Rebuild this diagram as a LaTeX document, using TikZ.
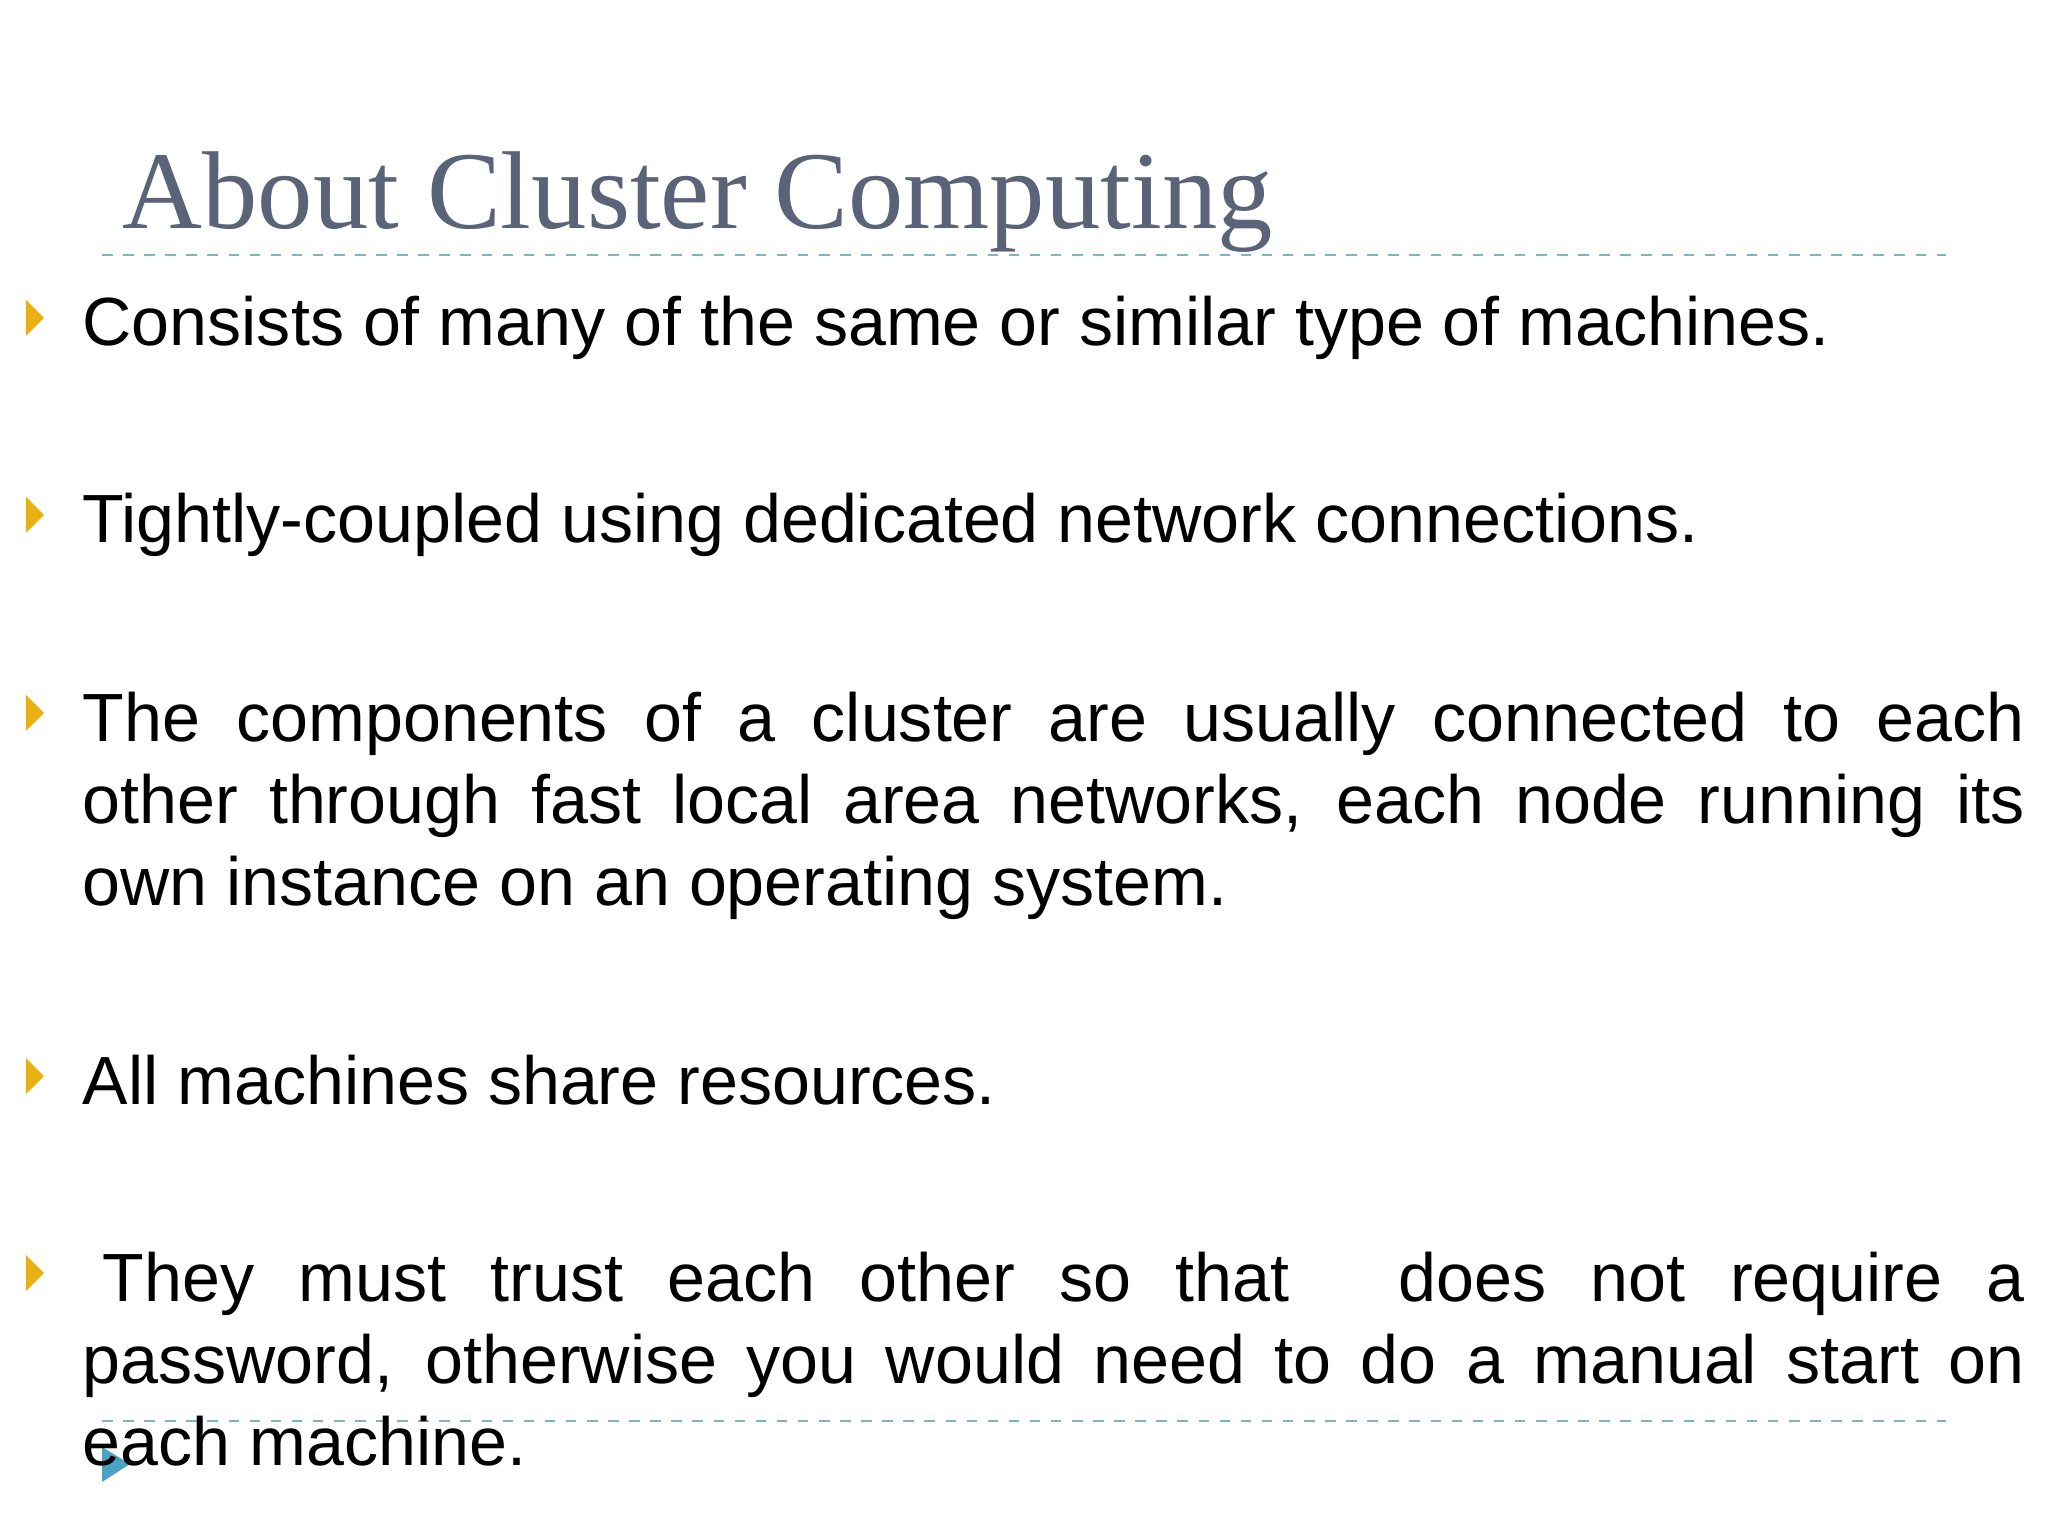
\documentclass[tikz,border=0pt]{standalone}
\usepackage{fontspec}
\setmainfont{Liberation Sans}
\newfontfamily\titlefont{Liberation Serif}
\definecolor{titlec}{HTML}{5A6377}
\definecolor{bulc}{HTML}{E8B010}
\definecolor{dashc}{HTML}{7FB5C3}
\definecolor{tealc}{HTML}{4BA3C3}
\hyphenpenalty=10000
\tikzset{
 item/.style={anchor=base west,inner sep=0pt,text width=19.42cm,align=justify,font=\fontsize{19.4pt}{23.4pt}\selectfont},
 bul/.style={fill=bulc,draw=none},
 sep/.style={dashc,dashed,line width=0.6pt}
}
\begin{document}
\begin{tikzpicture}[yscale=-1]
\useasboundingbox (0,0) rectangle (20.48,15.36);
\fill[white] (0,0) rectangle (20.48,15.36);
\node[anchor=base west,inner sep=0pt,text=titlec,font=\titlefont\fontsize{31.5pt}{36pt}\selectfont] (title) at (1.22,2.29) {About Cluster Computing};
\draw[sep] (1.02,2.55) -- (19.46,2.55);
\draw[sep] (1.02,14.21) -- (19.46,14.21);
\fill[tealc] (1.02,14.47) -- (1.3,14.64) -- (1.02,14.82) -- cycle;
\foreach \y/\n in {3.46/1,5.43/2,7.41/3,11.04/4,13.01/5}{
  \fill[bul] (0.26,\y-0.46) -- (0.44,\y-0.28) -- (0.26,\y-0.1) -- cycle;
}
\node[item] (t1) at (0.82,3.46) {Consists of many of the same or similar type of machines.};
\node[item] (t2) at (0.82,5.43) {Tightly-coupled using dedicated network connections.};
\node[item] (t3) at (0.82,7.41) {The components of a cluster are usually connected to each\linebreak other through fast local area networks, each node running its\linebreak own instance on an operating system.};
\node[item] (t4) at (0.82,11.04) {All machines share resources.};
\node[item] (t5) at (0.82,13.01) {\hspace{0.2cm}They must trust each other so that \hspace{0.3em} does not require a\linebreak password, otherwise you would need to do a manual start on\linebreak each machine.};
\end{tikzpicture}
\end{document}
